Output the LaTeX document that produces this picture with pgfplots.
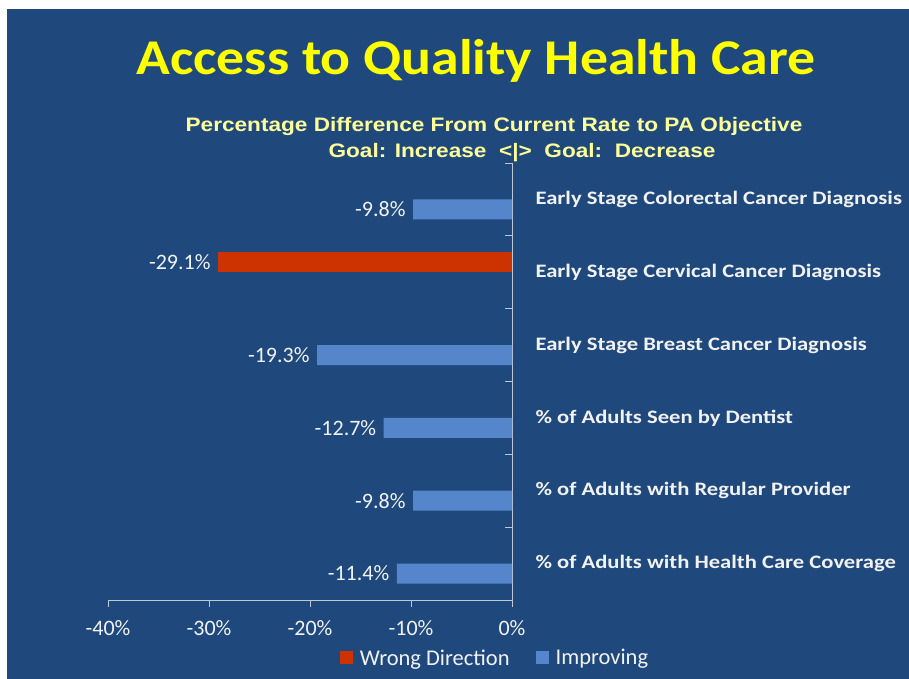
\documentclass[border=0pt]{standalone}
\usepackage{fontspec}
\usepackage{pgfplots}
\pgfplotsset{compat=1.18}
\setmainfont{Carlito}
\newfontfamily\titlefont{Carlito}[FakeStretch=1.115]
\newfontfamily\catfont{Carlito}[FakeStretch=1.19]
\newfontfamily\subfont{Liberation Sans}[FakeStretch=1.16]
\definecolor{bg}{HTML}{1F497D}
\definecolor{titley}{HTML}{FFFF00}
\definecolor{suby}{HTML}{FFFF99}
\definecolor{wrongc}{HTML}{CC3300}
\definecolor{impc}{HTML}{5585CA}
\definecolor{axcol}{HTML}{BEC8D7}
\definecolor{txt}{HTML}{F2F2F2}
\begin{document}
\begin{tikzpicture}[x=1pt,y=1pt]
\fill[white] (0,0) rectangle (909,679);
\fill[bg] (7,0) rectangle (909,670);
\node[anchor=base, text=titley, font=\titlefont\bfseries\fontsize{50}{60}\selectfont, inner sep=0pt] at (476,604) {Access to Quality Health Care};
\node[anchor=base, text=suby, font=\subfont\bfseries\fontsize{19.5}{23}\selectfont, inner sep=0pt] at (494,547) {Percentage Difference From Current Rate to PA Objective};
\node[anchor=base, text=suby, font=\subfont\bfseries\fontsize{19.5}{23}\selectfont, inner sep=0pt] at (522,521) {Goal: Increase\ \ <|>\ \ Goal:\ \ Decrease};
\begin{axis}[
  at={(108pt,79pt)}, anchor=south west, scale only axis,
  width=404pt, height=437pt,
  xmin=-40, xmax=0, ymin=0.5, ymax=6.5,
  axis x line*=bottom, axis y line*=right,
  xtick pos=bottom, ytick pos=right,
  xticklabel pos=bottom, yticklabel pos=right,
  axis line style={-, draw=axcol, line width=0.8pt},
  xtick={-40,-30,-20,-10,0},
  xticklabels={-40\%,-30\%,-20\%,-10\%,0\%},
  ytick={1,2,3,4,5,6},
  yticklabels={\% of Adults with Health Care Coverage,\% of Adults with Regular Provider,\% of Adults Seen by Dentist,Early Stage Breast Cancer Diagnosis,Early Stage Cervical Cancer Diagnosis,Early Stage Colorectal Cancer Diagnosis},
  major tick length=7pt,
  xtick align=outside,
  y tick style={draw=none},
  x tick style={draw=axcol, line width=0.8pt},
  tick label style={text=txt},
  xticklabel style={font=\fontsize{22}{26}\selectfont, yshift=-10pt},
  yticklabel style={font=\catfont\bfseries\fontsize{19}{23}\selectfont, anchor=west, xshift=13pt},
  xbar, bar width=20pt,
  /pgf/number format/assume math mode=true,
  nodes near coords={\pgfmathprintnumber[fixed,precision=1,fixed zerofill]{\pgfplotspointmeta}\%},
  nodes near coords align={horizontal},
  every node near coord/.append style={text=txt, font=\fontsize{22}{26}\selectfont, xshift=-4pt},
  legend columns=2,
  legend style={draw=none, fill=none, text=txt, font=\fontsize{22.5}{26}\selectfont,
    at={(0.958,-0.1327)}, anchor=center,
    /tikz/every odd column/.append style={column sep=5pt},
    /tikz/every even column/.append style={column sep=24pt}},
  legend image code/.code={\fill[#1] (0pt,-6.5pt) rectangle (13pt,6.5pt);},
  after end axis/.code={
    \foreach \yy in {1.5,2.5,3.5,4.5,5.5,6.5}{
      \draw[axcol, line width=0.8pt] (axis cs:0,\yy) -- ++(-7pt,0pt);
    }
  },
]
\addplot[fill=wrongc, draw=none, bar shift=10pt] coordinates {(-29.1,5)};
\addlegendentry{Wrong Direction}
\addplot[fill=impc, draw=none, bar shift=-10pt] coordinates {(-11.4,1) (-9.8,2) (-12.7,3) (-19.3,4) (-9.8,6)};
\addlegendentry{Improving}
\end{axis}
\pgfresetboundingbox
\path (0,0) rectangle (909,679);
\end{tikzpicture}
\end{document}
